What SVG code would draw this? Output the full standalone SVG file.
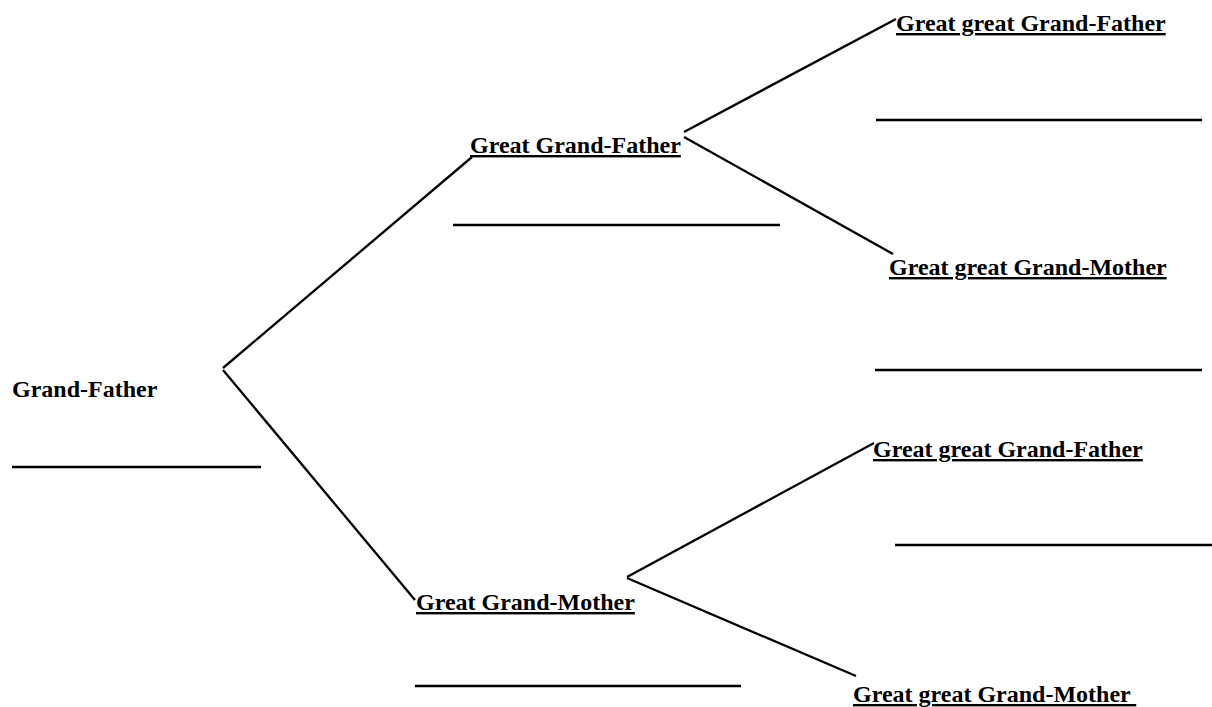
<svg xmlns="http://www.w3.org/2000/svg" width="1212" height="707" viewBox="0 0 1212 707">
<style>
.lbl{font-family:"Liberation Serif","Times New Roman",serif;font-weight:bold;font-size:24px;fill:#000;}
.u{text-decoration:underline;white-space:pre;}
.blank{stroke:#000;stroke-width:2.5;}
.conn line{stroke:#000;stroke-width:2.3;fill:none;}
</style>
<rect width="1212" height="707" fill="#fff"/>
<g id="connectors" class="conn">
<line x1="223" y1="368" x2="472" y2="157"/>
<line x1="223" y1="370" x2="415" y2="600"/>
<line x1="684" y1="132" x2="896" y2="19"/>
<line x1="684" y1="137" x2="893" y2="254"/>
<line x1="627" y1="577" x2="874" y2="443"/>
<line x1="627" y1="578" x2="856" y2="676"/>
</g>
<g id="grandfather">
<text class="lbl" x="12" y="397">Grand-Father</text>
<line class="blank" x1="12" y1="467" x2="261" y2="467"/>
</g>
<g id="great-grandfather">
<text class="lbl u" x="470" y="153">Great Grand-Father</text>
<line class="blank" x1="453" y1="225" x2="780" y2="225"/>
</g>
<g id="great-grandmother">
<text class="lbl u" x="416" y="610">Great Grand-Mother</text>
<line class="blank" x1="415" y1="686" x2="741" y2="686"/>
</g>
<g id="gg-grandfather-1">
<text class="lbl u" x="896" y="31">Great great Grand-Father</text>
<line class="blank" x1="876" y1="120" x2="1202" y2="120"/>
</g>
<g id="gg-grandmother-1">
<text class="lbl u" x="889" y="275">Great great Grand-Mother</text>
<line class="blank" x1="875" y1="370" x2="1202" y2="370"/>
</g>
<g id="gg-grandfather-2">
<text class="lbl u" x="873" y="457">Great great Grand-Father</text>
<line class="blank" x1="895" y1="545" x2="1212" y2="545"/>
</g>
<g id="gg-grandmother-2">
<text class="lbl u" x="853" y="702">Great great Grand-Mother </text>
</g>
</svg>
